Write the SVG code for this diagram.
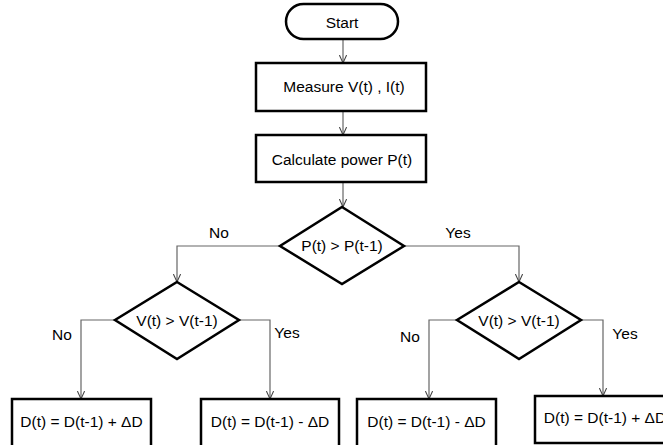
<svg xmlns="http://www.w3.org/2000/svg" width="663" height="445" viewBox="0 0 663 445">
<style>
.shape{fill:#fff;stroke:#000;stroke-width:2.5}
.conn{fill:none;stroke:#666;stroke-width:1.2}
text{font-family:"Liberation Sans",Arial,sans-serif;font-size:15.5px;fill:#000;text-anchor:middle;dominant-baseline:central}
</style>
<defs>
<marker id="arr" viewBox="0 0 10 10" refX="10" refY="5" markerWidth="8" markerHeight="8" markerUnits="userSpaceOnUse" orient="auto">
<path d="M0,0.5 L10,5 L0,9.5" fill="none" stroke="#444" stroke-width="1.3"/>
</marker>
</defs>
<rect width="663" height="445" fill="#fff"/>
<g id="connectors">
<path class="conn" d="M343,39 V63" marker-end="url(#arr)"/>
<path class="conn" d="M343,111 V135" marker-end="url(#arr)"/>
<path class="conn" d="M343,182 V207" marker-end="url(#arr)"/>
<path class="conn" d="M280,246 H177 V282" marker-end="url(#arr)"/>
<path class="conn" d="M404,246 H519 V282" marker-end="url(#arr)"/>
<path class="conn" d="M115,320 H81 V399" marker-end="url(#arr)"/>
<path class="conn" d="M239,320 H270 V399" marker-end="url(#arr)"/>
<path class="conn" d="M457,320 H429 V399" marker-end="url(#arr)"/>
<path class="conn" d="M581,320 H603 V396" marker-end="url(#arr)"/>
<text x="219" y="232">No</text>
<text x="458" y="232">Yes</text>
<text x="62" y="334">No</text>
<text x="287" y="332">Yes</text>
<text x="410" y="336">No</text>
<text x="625" y="333">Yes</text>
</g>
<g id="start">
<rect class="shape" x="286" y="4" width="112" height="35" rx="17.5"/>
<text x="342" y="22">Start</text>
</g>
<g id="measure">
<rect class="shape" x="256" y="63" width="170" height="48"/>
<text x="344" y="86">Measure V(t) , I(t)</text>
</g>
<g id="calculate">
<rect class="shape" x="256" y="135" width="170" height="47"/>
<text x="342" y="159">Calculate power P(t)</text>
</g>
<g id="decision-p">
<polygon class="shape" points="342,207 404,246 342,284 280,246"/>
<text x="342" y="245">P(t) &gt; P(t-1)</text>
</g>
<g id="decision-v-left">
<polygon class="shape" points="177,282 239,320 177,359 115,320"/>
<text x="177" y="320">V(t) &gt; V(t-1)</text>
</g>
<g id="decision-v-right">
<polygon class="shape" points="519,282 581,320 519,359 457,320"/>
<text x="519" y="320">V(t) &gt; V(t-1)</text>
</g>
<g id="box1">
<rect class="shape" x="12" y="399" width="139" height="50"/>
<text x="81.5" y="421">D(t) = D(t-1) + ΔD</text>
</g>
<g id="box2">
<rect class="shape" x="201" y="399" width="138" height="50"/>
<text x="270" y="421">D(t) = D(t-1) - ΔD</text>
</g>
<g id="box3">
<rect class="shape" x="357" y="399" width="139" height="50"/>
<text x="426.5" y="421">D(t) = D(t-1) - ΔD</text>
</g>
<g id="box4">
<rect class="shape" x="535" y="396" width="140" height="47"/>
<text x="605" y="417">D(t) = D(t-1) + ΔD</text>
</g>
</svg>
